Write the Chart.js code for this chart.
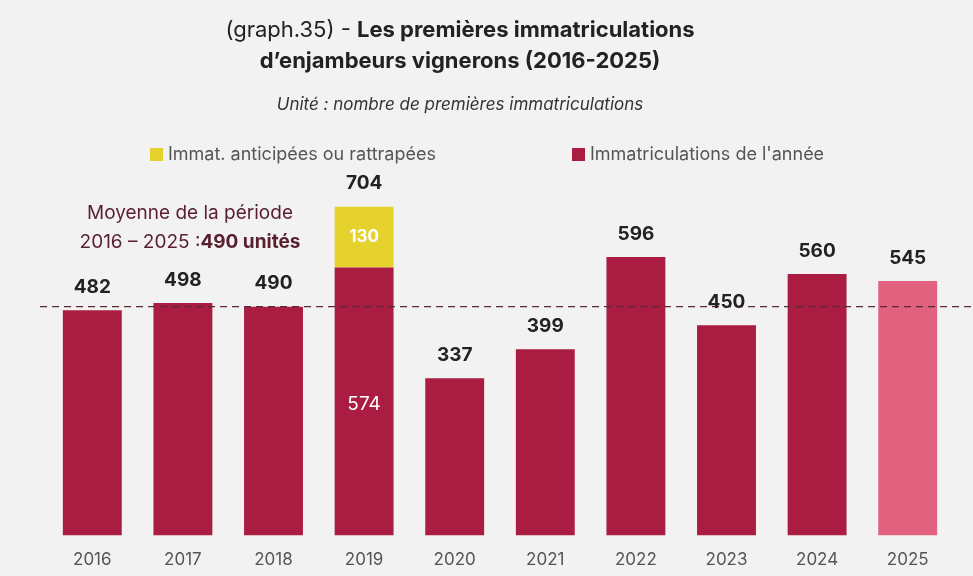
<!DOCTYPE html>
<html><head><meta charset="utf-8">
<script src="https://cdn.jsdelivr.net/npm/chart.js@4/dist/chart.umd.min.js"></script>
<style>
body{margin:0;background:#F2F2F2;font-family:Inter,"Open Sans",sans-serif;}
#wrap{position:relative;width:973px;height:576px;}
canvas{position:absolute;left:0;top:0;}
.t{position:absolute;white-space:nowrap;}
</style></head><body>
<div id="wrap">
<canvas id="c" width="973" height="576"></canvas>
<div class="t" style="left:0;width:920px;text-align:center;top:14px;font-size:22px;color:#222;line-height:31px">(graph.35) - <b>Les premières immatriculations</b><br><b>d’enjambeurs vignerons (2016-2025)</b></div>
<div class="t" style="left:0;width:920px;text-align:center;top:94px;font-size:17px;font-style:italic;color:#333">Unité : nombre de premières immatriculations</div>
<div class="t" style="left:150px;top:143px;font-size:18px;color:#555"><span style="display:inline-block;width:13px;height:13px;background:#E6D22C;margin-right:5px;vertical-align:-1px"></span>Immat. anticipées ou rattrapées</div>
<div class="t" style="left:572px;top:143px;font-size:18px;color:#555"><span style="display:inline-block;width:13px;height:13px;background:#AA1C42;margin-right:5px;vertical-align:-1px"></span>Immatriculations de l'année</div>
<div class="t" style="left:40px;width:300px;text-align:center;top:198px;font-size:19px;color:#5A1F2E;line-height:29px">Moyenne de la période<br>2016 – 2025 :<b>490 unités</b></div>
</div>
<script>
const years=["2016","2017","2018","2019","2020","2021","2022","2023","2024","2025"];
const annee=[482,498,490,574,337,399,596,450,560,545];
const anticipees=[0,0,0,130,0,0,0,0,0,0];
const totals=[482,498,490,704,337,399,596,450,560,545];
const moyenne=490;
const red="#AA1C42",pink="#E2617F",yellow="#E6D22C";
const labelsPlugin={id:"lbl",afterDatasetsDraw(ch){
 const c=ch.ctx,x=ch.scales.x,y=ch.scales.y;
 c.save();
 c.strokeStyle="#5A2A35";c.lineWidth=1.3;c.setLineDash([7,5]);
 const my=y.getPixelForValue(moyenne);
 c.beginPath();c.moveTo(40,my);c.lineTo(973,my);c.stroke();c.setLineDash([]);
 c.textAlign="center";c.textBaseline="middle";
 totals.forEach((v,i)=>{
  const px=x.getPixelForValue(i);
  c.font="bold 19px Inter, sans-serif";c.fillStyle="#222";
  c.fillText(v,px,y.getPixelForValue(v)-23);
  if(anticipees[i]>0){
   c.fillStyle="#fff";
   c.font="bold 17px Inter, sans-serif";
   c.fillText(anticipees[i],px,y.getPixelForValue(annee[i]+anticipees[i]/2));
   c.font="19px Inter, sans-serif";
   c.fillText(annee[i],px,y.getPixelForValue(annee[i]/2)+3);
  }
 });
 c.restore();
}};
new Chart(document.getElementById("c"),{type:"bar",
data:{labels:years,datasets:[
 {label:"Immatriculations de l'année",data:annee,backgroundColor:annee.map((v,i)=>i===9?pink:red)},
 {label:"Immat. anticipées ou rattrapées",data:anticipees,backgroundColor:yellow}]},
options:{responsive:false,animation:false,
 layout:{padding:{left:47,right:20,top:180,bottom:0}},
 plugins:{legend:{display:false},tooltip:{enabled:false}},
 datasets:{bar:{categoryPercentage:1,barPercentage:0.65}},
 scales:{x:{stacked:true,grid:{display:false},border:{display:false},ticks:{color:"#555",font:{size:17,family:"Inter"},padding:6}},
  y:{stacked:true,display:false,min:0,max:761}}},
plugins:[labelsPlugin]});
</script></body></html>
